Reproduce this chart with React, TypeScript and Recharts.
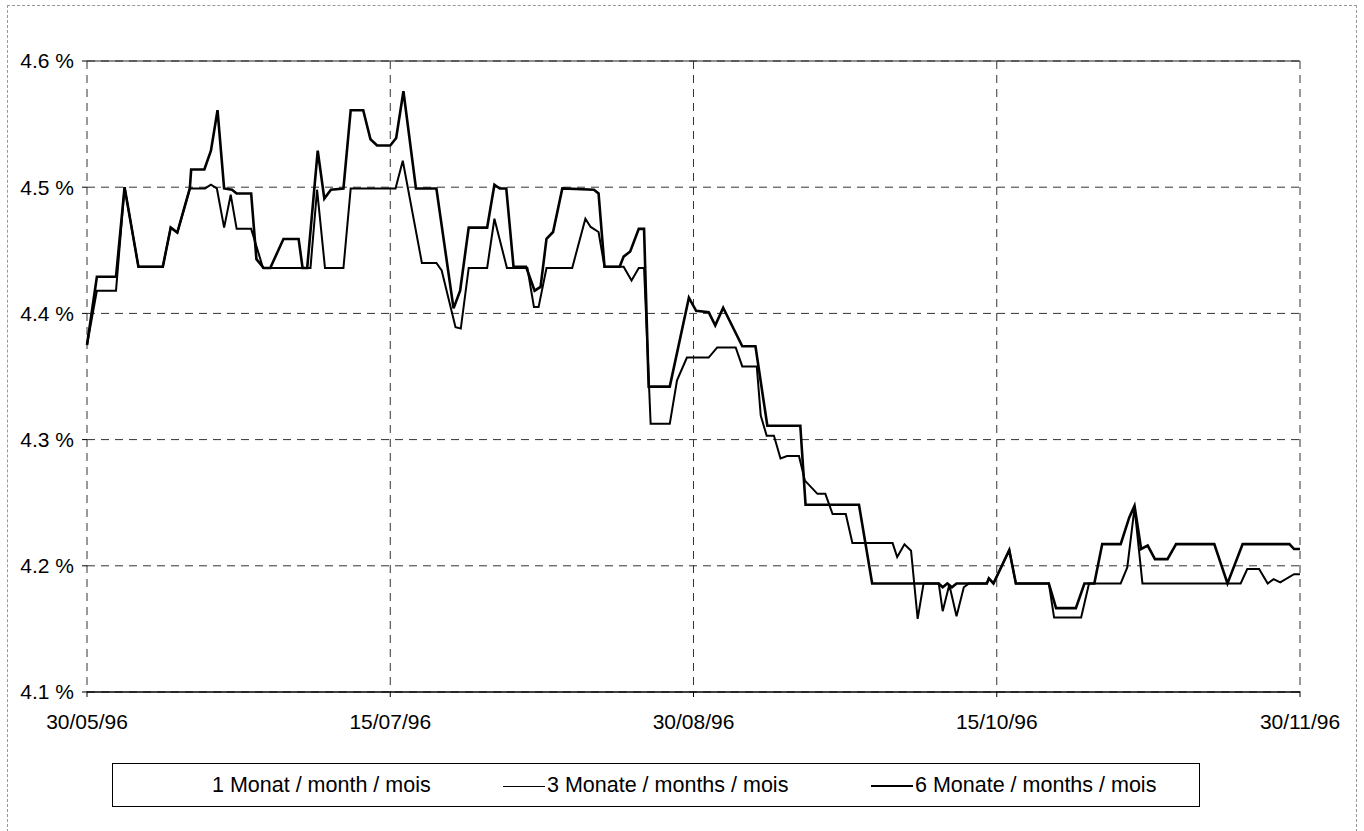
import React from "react"
import { LineChart, Line, XAxis, YAxis, CartesianGrid, ReferenceLine } from "recharts"

// days counted from 30/05/96
const xTicks = [0, 46, 92, 138, 184]
const xLabels = ["30/05/96", "15/07/96", "30/08/96", "15/10/96", "30/11/96"]
const yTicks = [4.1, 4.2, 4.3, 4.4, 4.5, 4.6]

const seriesNames = ["1 Monat / month / mois", "3 Monate / months / mois", "6 Monate / months / mois"]

// 6 Monate / months / mois
const days6 = [
  0, 1.5, 4.4, 5.7, 7.8, 11.5, 12.7, 13.7, 15.6, 15.8, 17.8, 18.8, 19.8, 20.8, 22.0, 22.7, 24.9, 25.7, 26.8, 27.8,
  29.8, 32.1, 32.7, 33.4, 35.0, 36.0, 37.0, 38.9, 40.0, 41.9, 43.0, 44.0, 46.0, 46.9, 48.0, 49.9, 53.0, 55.6, 56.6,
  57.9, 60.7, 61.8, 62.6, 63.6, 64.7, 66.6, 67.9, 68.8, 69.7, 70.7, 72.1, 76.9, 77.6, 78.5, 80.8, 81.4, 82.4, 83.7,
  84.5, 85.2, 88.4, 91.3, 92.4, 94.3, 95.3, 96.5, 99.4, 101.4, 103.2, 108.2, 109.0, 117.1, 119.1, 129.2, 129.8,
  130.5, 131.2, 131.9, 136.5, 136.8, 137.5, 139.9, 140.9, 145.9, 147.0, 150.0, 151.3, 152.8, 154.0, 156.8, 158.1,
  158.9, 159.9, 160.9, 162.0, 163.9, 165.2, 171.0, 173.0, 175.3, 182.4, 183.1, 184,
]
const rate6 = [
  4.375, 4.429, 4.429, 4.5, 4.437, 4.437, 4.468, 4.464, 4.499, 4.514, 4.514, 4.529, 4.561, 4.499, 4.498, 4.495,
  4.495, 4.443, 4.436, 4.436, 4.459, 4.459, 4.436, 4.436, 4.529, 4.491, 4.498, 4.499, 4.561, 4.561, 4.538, 4.533,
  4.533, 4.539, 4.576, 4.499, 4.499, 4.404, 4.418, 4.468, 4.468, 4.502, 4.499, 4.499, 4.437, 4.437, 4.418, 4.421,
  4.459, 4.4645, 4.499, 4.498, 4.495, 4.437, 4.437, 4.445, 4.449, 4.467, 4.467, 4.342, 4.342, 4.4125, 4.402, 4.401,
  4.3905, 4.4045, 4.374, 4.374, 4.311, 4.311, 4.2484, 4.2484, 4.186, 4.186, 4.183, 4.186, 4.183, 4.186, 4.186,
  4.19, 4.186, 4.2125, 4.186, 4.186, 4.1665, 4.1665, 4.186, 4.186, 4.2172, 4.2172, 4.2383, 4.2476, 4.2133, 4.216,
  4.2053, 4.2053, 4.2172, 4.2172, 4.186, 4.2172, 4.2172, 4.2133, 4.2133,
]

// 3 Monate / months / mois
const days3 = [
  0, 1.5, 4.4, 5.7, 7.8, 11.5, 12.7, 13.7, 15.6, 17.9, 18.8, 19.7, 20.8, 21.8, 22.7, 24.9, 26.7, 33.9, 34.9, 36.1,
  38.9, 40.0, 46.8, 47.9, 50.8, 53.0, 53.8, 55.9, 56.7, 57.9, 60.7, 61.8, 63.7, 66.8, 67.8, 68.5, 69.7, 73.6, 75.6,
  76.4, 77.6, 78.5, 81.4, 82.6, 83.7, 84.5, 85.5, 88.4, 89.5, 91.0, 94.3, 95.6, 98.4, 99.4, 101.6, 102.2, 103.1,
  104.2, 105.2, 106.2, 108.0, 108.9, 110.8, 112.0, 113.1, 115.1, 116.1, 122.2, 122.9, 124.0, 125.0, 126.0, 126.9,
  129.2, 129.8, 130.8, 131.9, 133.0, 133.8, 136.5, 136.8, 137.5, 139.9, 140.9, 145.9, 146.7, 150.8, 152.0, 156.8,
  157.8, 158.9, 160.1, 175.0, 176.0, 177.8, 179.1, 180.0, 181.0, 183.1, 184,
]
const rate3 = [
  4.375, 4.418, 4.418, 4.5, 4.437, 4.437, 4.468, 4.464, 4.499, 4.499, 4.502, 4.499, 4.468, 4.494, 4.467, 4.467,
  4.436, 4.436, 4.498, 4.436, 4.436, 4.499, 4.499, 4.521, 4.44, 4.44, 4.434, 4.389, 4.388, 4.436, 4.436, 4.475,
  4.436, 4.436, 4.405, 4.405, 4.436, 4.436, 4.475, 4.4685, 4.4645, 4.437, 4.437, 4.426, 4.436, 4.436, 4.3125,
  4.3125, 4.347, 4.365, 4.365, 4.373, 4.373, 4.358, 4.358, 4.319, 4.303, 4.303, 4.285, 4.287, 4.287, 4.2675, 4.257,
  4.257, 4.241, 4.241, 4.218, 4.218, 4.207, 4.217, 4.212, 4.158, 4.186, 4.186, 4.164, 4.185, 4.16, 4.183, 4.186,
  4.186, 4.19, 4.186, 4.2125, 4.186, 4.186, 4.159, 4.159, 4.186, 4.186, 4.1987, 4.246, 4.186, 4.186, 4.1974,
  4.1974, 4.186, 4.1894, 4.1868, 4.1934, 4.1934,
]

const data6 = days6.map((day, i) => ({ day, rate: rate6[i] }))
const data3 = days3.map((day, i) => ({ day, rate: rate3[i] }))

const font = "'Liberation Sans', Arial, sans-serif"

function LegendSample({ width }: { width: number }) {
  if (!width) return <span style={{ display: "inline-block", width: 44 }} />
  return (
    <span
      style={{ display: "inline-block", width: 42, height: 0, borderTop: `${width}px solid #000`, verticalAlign: "middle", marginRight: 2 }}
    />
  )
}

export default function App() {
  const sampleWidths = [0, 1.8, 2.5]
  return (
    <div style={{ position: "absolute", left: 0, top: 0, width: 1364, height: 831, background: "#fff", fontFamily: font }}>
      <div style={{ position: "absolute", left: 7, top: 5, width: 1348, height: 830, border: "1px dashed #999" }} />
      <LineChart width={1364} height={831} margin={{ top: 61, right: 64, bottom: 109, left: 7 }}>
        <CartesianGrid stroke="#333" strokeDasharray="8 6" strokeWidth={1} />
        <XAxis
          dataKey="day"
          type="number"
          domain={[0, 184]}
          ticks={xTicks}
          allowDuplicatedCategory={false}
          tickFormatter={(v: number) => xLabels[xTicks.indexOf(v)]}
          tick={{ fontSize: 21, fill: "#000", fontFamily: font }}
          tickSize={5}
          tickMargin={17}
          height={30}
          axisLine={{ stroke: "#000", strokeWidth: 1.5 }}
          tickLine={{ stroke: "#000" }}
        />
        <YAxis
          type="number"
          domain={[4.1, 4.6]}
          ticks={yTicks}
          tickFormatter={(v: number) => `${v.toFixed(1)} %`}
          tick={{ fontSize: 21, fill: "#000", fontFamily: font }}
          tickSize={5}
          tickMargin={8}
          width={80}
          axisLine={false}
          tickLine={{ stroke: "#000" }}
        />
        <ReferenceLine y={4.6} stroke="#222" strokeWidth={1.2} />
        <Line data={data3} dataKey="rate" name={seriesNames[1]} type="linear" stroke="#000" strokeWidth={2} dot={false} isAnimationActive={false} />
        <Line data={data6} dataKey="rate" name={seriesNames[2]} type="linear" stroke="#000" strokeWidth={2.6} dot={false} isAnimationActive={false} />
      </LineChart>
      <div
        style={{
          position: "absolute",
          left: 112,
          top: 763,
          width: 1086,
          height: 42,
          border: "1px solid #000",
          fontSize: 21.5,
          color: "#000",
        }}
      >
        {seriesNames.map((name, i) => (
          <span
            key={name}
            style={{ position: "absolute", left: [55, 390, 758][i], top: 9, whiteSpace: "nowrap", lineHeight: "24px" }}
          >
            <LegendSample width={sampleWidths[i]} />
            {name}
          </span>
        ))}
      </div>
    </div>
  )
}
